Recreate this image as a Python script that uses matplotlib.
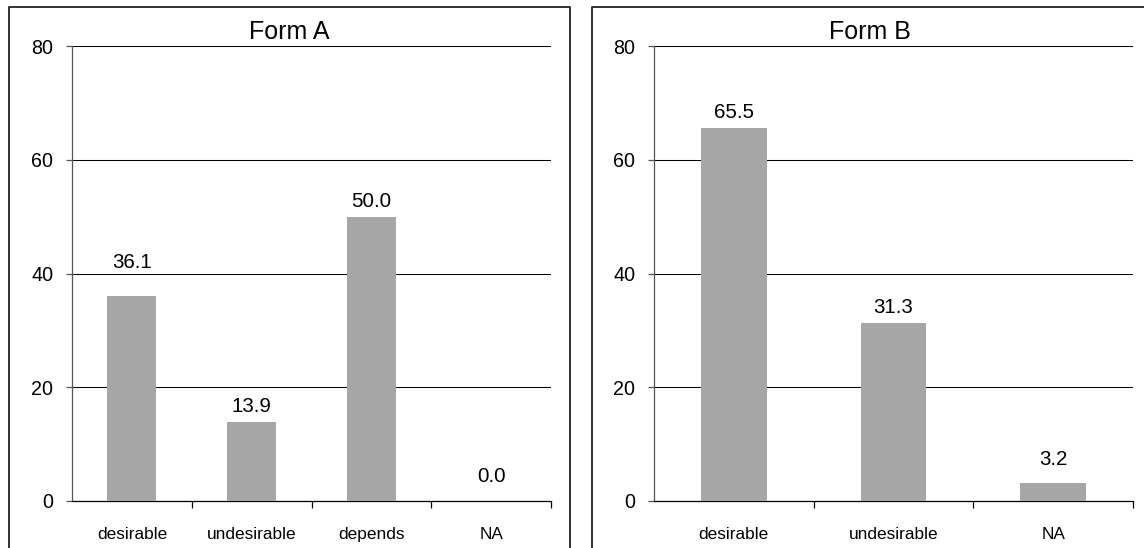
import matplotlib
matplotlib.use("Agg")
import matplotlib.pyplot as plt
from matplotlib.lines import Line2D

plt.rcParams['font.family'] = ['Liberation Sans', 'DejaVu Sans']

# Data
form_a_categories = ["desirable", "undesirable", "depends", "NA"]
form_a_values = [36.1, 13.9, 50.0, 0.0]
form_b_categories = ["desirable", "undesirable", "NA"]
form_b_values = [65.5, 31.3, 3.2]
y_ticks = [0, 20, 40, 60, 80]

# label offsets above bar top (pixels), style only
form_a_offsets = [33, 15, 15, 24]
form_b_offsets = [16, 15, 23]

W, H = 1144, 548
fig = plt.figure(figsize=(W / 100, H / 100), dpi=100)

def px_rect(x0, y0, x1, y1):
    return [x0 / W, 1 - y1 / H, (x1 - x0) / W, (y1 - y0) / H]

bar_color = "#A6A6A6"

def draw(ax, cats, vals, offs):
    n = len(cats)
    x = list(range(n))
    ax.bar(x, vals, width=0.41, color=bar_color, edgecolor="none", zorder=3)
    ax.set_xlim(-0.5, n - 0.5)
    ax.set_ylim(0, 80)
    ax.set_yticks(y_ticks)
    ax.yaxis.grid(True, color="black", linewidth=0.75, zorder=1)
    ax.set_axisbelow(True)
    for s in ["top", "right"]:
        ax.spines[s].set_visible(False)
    ax.spines["left"].set_color("#555555")
    ax.spines["left"].set_linewidth(0.9)
    ax.spines["bottom"].set_color("black")
    ax.spines["bottom"].set_linewidth(0.9)
    ax.set_xticks(x)
    ax.set_xticklabels(cats, fontsize=12.4)
    ax.set_xticks([i + 0.5 for i in range(n)], minor=True)
    ax.tick_params(axis="x", which="major", length=0, pad=18.5)
    ax.tick_params(axis="x", which="minor", length=5, width=0.9, color="black", direction="out")
    ax.tick_params(axis="y", length=4.5, width=0.9, color="#555555", pad=9, labelsize=14.2)
    for xi, v, o in zip(x, vals, offs):
        ax.annotate(f"{v:.1f}", xy=(xi, v), xytext=(0, o * 0.72), textcoords="offset points",
                    ha="center", va="center", fontsize=14.8, zorder=4)

ax1 = fig.add_axes(px_rect(72, 46, 551, 501))
draw(ax1, form_a_categories, form_a_values, form_a_offsets)
ax2 = fig.add_axes(px_rect(654, 46, 1133, 501))
draw(ax2, form_b_categories, form_b_values, form_b_offsets)

# titles centred on each chart area
fig.text(289.5 / W, 1 - 39 / H, "Form A", ha="center", va="baseline", fontsize=18)
fig.text(870 / W, 1 - 39 / H, "Form B", ha="center", va="baseline", fontsize=18)

# panel borders
def fl(xs, ys):
    fig.add_artist(Line2D([v / W for v in xs], [1 - v / H for v in ys], color="#222222",
                          linewidth=1.3, transform=fig.transFigure))

fl([9, 9, 570, 570], [560, 7, 7, 560])
fl([592, 592, 1148, 1148], [560, 7, 7, 560])

fig.savefig("out.png", dpi=100)
